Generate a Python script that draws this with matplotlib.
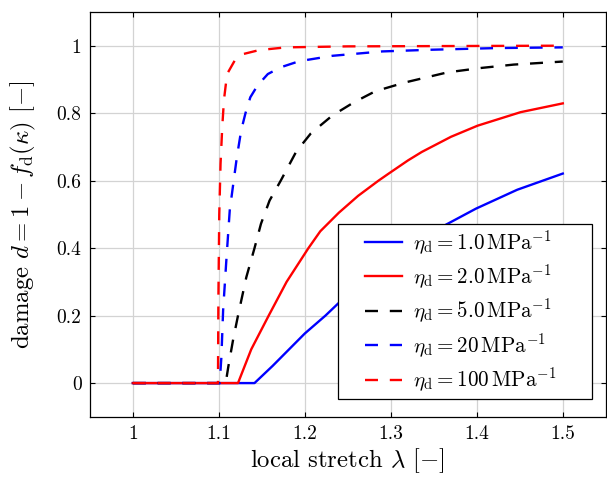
"""Damage evolution over local stretch for several damage parameters."""

import matplotlib
matplotlib.use("agg")
import matplotlib.pyplot as plt
from matplotlib.patches import Rectangle

plt.rcParams["font.family"] = "serif"
plt.rcParams["font.serif"] = ["cmr10", "DejaVu Serif"]
plt.rcParams["mathtext.fontset"] = "cm"
plt.rcParams["axes.unicode_minus"] = False

# values
lam_eta1 = [1.0, 1.1415, 1.1626, 1.2, 1.224, 1.2388, 1.27, 1.30, 1.33,
            1.3645, 1.399, 1.447, 1.5]
d_eta1 = [0.0, 0.0, 0.051, 0.147, 0.2, 0.236, 0.302, 0.362, 0.4145,
          0.470, 0.517, 0.573, 0.621]

lam_eta2 = [1.0, 1.1223, 1.1377, 1.158, 1.1788, 1.2042, 1.218, 1.2396, 1.262,
            1.2857, 1.297, 1.32, 1.336, 1.37, 1.401, 1.451, 1.5]
d_eta2 = [0.0, 0.0, 0.1, 0.2, 0.3, 0.4, 0.45, 0.505, 0.555,
          0.6, 0.62, 0.66, 0.685, 0.73, 0.763, 0.803, 0.829]

lam_eta5 = [1.0, 1.108, 1.111, 1.1165, 1.1223, 1.132, 1.1415, 1.149, 1.159,
            1.172, 1.19, 1.207, 1.232, 1.257, 1.282, 1.3165, 1.366, 1.405,
            1.443, 1.5]
d_eta5 = [0.0, 0.0, 0.048, 0.127, 0.2, 0.314, 0.4, 0.472, 0.541,
          0.6, 0.686, 0.74, 0.793, 0.832, 0.865, 0.891, 0.921, 0.934,
          0.944, 0.953]

lam_eta20 = [1.0, 1.101, 1.103, 1.105, 1.109, 1.1127, 1.1173, 1.121, 1.126,
             1.131, 1.1366, 1.145, 1.157, 1.172, 1.1934, 1.232, 1.29, 1.347,
             1.424, 1.5]
d_eta20 = [0.0, 0.0, 0.078, 0.216, 0.374, 0.512, 0.6, 0.67, 0.749,
           0.8, 0.847, 0.882, 0.916, 0.936, 0.954, 0.970, 0.983, 0.988,
           0.993, 0.995]

lam_eta100 = [1.0, 1.099, 1.0995, 1.1005, 1.102, 1.104, 1.106, 1.1096, 1.1185,
              1.128, 1.147, 1.178, 1.25, 1.5]
d_eta100 = [0.0, 0.0, 0.25, 0.5, 0.65, 0.76, 0.84, 0.916, 0.956,
            0.975, 0.987, 0.995, 0.998, 1.0]

labels = [
    r"$\eta_{\mathrm{d}} = 1.0\,\mathrm{MPa}^{-1}$",
    r"$\eta_{\mathrm{d}} = 2.0\,\mathrm{MPa}^{-1}$",
    r"$\eta_{\mathrm{d}} = 5.0\,\mathrm{MPa}^{-1}$",
    r"$\eta_{\mathrm{d}} = 20\,\mathrm{MPa}^{-1}$",
    r"$\eta_{\mathrm{d}} = 100\,\mathrm{MPa}^{-1}$",
]
x_ticks = [1.0, 1.1, 1.2, 1.3, 1.4, 1.5]
x_ticklabels = ["1", "1.1", "1.2", "1.3", "1.4", "1.5"]
y_ticks = [0.0, 0.2, 0.4, 0.6, 0.8, 1.0]
y_ticklabels = ["0", "0.2", "0.4", "0.6", "0.8", "1"]

fig = plt.figure(figsize=(6.07, 4.78), dpi=100)
ax = fig.add_axes([0.148, 0.128, 0.85, 0.847])

ax.grid(True, color="#d3d3d3", linewidth=0.9, zorder=0)
ax.axvline(1.0, color="black", linestyle=":", linewidth=0.7, zorder=1)
ax.axhline(0.0, color="black", linestyle=":", linewidth=0.7, zorder=1)

lw = 1.7
dash = (0, (5.5, 5.0))
ax.plot(lam_eta1, d_eta1, color="#0000ff", linewidth=lw, label=labels[0], zorder=3)
ax.plot(lam_eta2, d_eta2, color="#ff0000", linewidth=lw, label=labels[1], zorder=3)
ax.plot(lam_eta5, d_eta5, color="black", linewidth=lw, linestyle=dash,
        label=labels[2], zorder=3)
ax.plot(lam_eta20, d_eta20, color="#0000ff", linewidth=lw, linestyle=dash,
        label=labels[3], zorder=3)
ax.plot(lam_eta100, d_eta100, color="#ff0000", linewidth=lw, linestyle=dash,
        label=labels[4], zorder=3)

ax.set_xlim(0.95, 1.55)
ax.set_ylim(-0.1, 1.1)
ax.set_xticks(x_ticks)
ax.set_xticklabels(x_ticklabels)
ax.set_yticks(y_ticks)
ax.set_yticklabels(y_ticklabels)
ax.tick_params(direction="in", top=True, right=True, length=3.5, width=0.8,
               labelsize=14, pad=6)
for sp in ax.spines.values():
    sp.set_linewidth(0.9)

ax.set_xlabel(r"local stretch $\lambda$ $[-]$", fontsize=17.8, labelpad=2)
ax.set_ylabel(r"damage $d = 1 - f_{\mathrm{d}}(\kappa)$ $[-]$", fontsize=17.8,
              labelpad=13)

# legend box drawn separately so the padding can be wider than tall
ax.add_patch(Rectangle((0.4816, 0.0444), 0.4914, 0.4321, transform=ax.transAxes,
                       facecolor="white", edgecolor="black", linewidth=0.9,
                       zorder=4))
leg = ax.legend(loc="center left", bbox_to_anchor=(0.534, 0.2605), fontsize=15.2,
                frameon=False, handlelength=1.75, handletextpad=0.5,
                labelspacing=0.3, borderpad=0, borderaxespad=0)
leg.set_zorder(5)

fig.savefig("out.png", dpi=100)
